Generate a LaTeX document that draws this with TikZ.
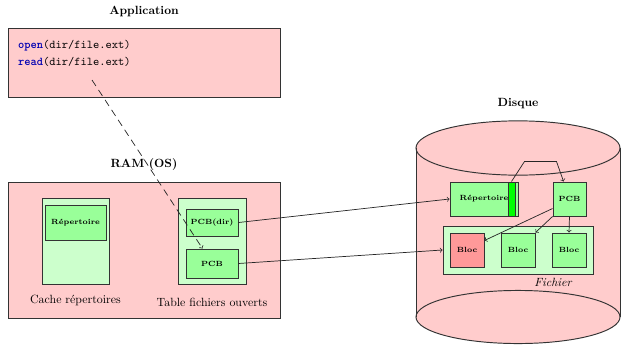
\documentclass[tikz,border=0pt]{standalone}
\usetikzlibrary{positioning}

\begin{document}
\begin{tikzpicture}[
            x=0.84pt, y=-0.84pt,
            >=to,
            zone/.style={draw=black!80, line width=0.8pt, fill=red!20},
            tablebox/.style={draw=black!80, line width=0.8pt, fill=green!20},
            entry/.style={draw=black!80, line width=0.8pt, fill=green!40,
                font=\fontsize{6.3pt}{7.5pt}\selectfont\bfseries},
            bloc/.style={entry, minimum size=28.6pt},
            title/.style={font=\bfseries},
            link/.style={->, line width=0.6pt, black!85}
        ]
        \useasboundingbox (0,0) rectangle (621,344);

        % application
        \node[zone, minimum width=228.5pt, minimum height=58pt] (app) at (144,62.5) {};
        \node[title] at (144,11) {Application};
        \node[anchor=west, font=\ttfamily] (opencall) at (14,46) {\textcolor{blue!70!black}{\bfseries open}(dir/file.ext)};
        \node[anchor=west, font=\ttfamily] (readcall) at (14,62) {\textcolor{blue!70!black}{\bfseries read}(dir/file.ext)};
        \coordinate (callstart) at (92,80);

        % RAM
        \node[zone, minimum width=228.5pt, minimum height=114.2pt] (ram) at (144,250) {};
        \node[title] at (144,165) {RAM (OS)};
        \node[tablebox, minimum width=56.3pt, minimum height=72.2pt] (cache) at (75.5,241) {};
        \node[entry, minimum width=51.2pt, minimum height=29.4pt] (cacherep) at (75.5,222.5) {Répertoire};
        \node at (75.5,300) {Cache répertoires};
        \node[tablebox, minimum width=57.1pt, minimum height=72.2pt] (table) at (212,241) {};
        \node[entry, minimum width=43.7pt, minimum height=22.7pt] (pcbdir) at (212,222.5) {PCB(dir)};
        \node[entry, minimum width=43.7pt, minimum height=24.4pt] (pcb) at (212,263.5) {PCB};
        \node at (212,302) {Table fichiers ouverts};

        % disque
        \fill[red!20] (416,148) rectangle (620,317);
        \draw[zone] (518,317) ellipse [x radius=85.7pt, y radius=22.3pt];
        \draw[zone] (518,148) ellipse [x radius=85.7pt, y radius=22.8pt];
        \draw[black!80, line width=0.8pt] (416,148) -- (416,317) (620,148) -- (620,317);
        \node[title] at (518,104) {Disque};

        \node[entry, minimum width=57.1pt, minimum height=28.6pt] (dirrep) at (484,199) {Répertoire\hspace{5pt}};
        \node[draw=black!80, line width=0.8pt, fill=green, inner sep=0pt,
            minimum width=5.9pt, minimum height=28.6pt] (dirmark) at (511.5,199) {};
        \node[entry, minimum width=27.7pt, minimum height=28.6pt] (dpcb) at (569.5,199) {PCB};
        \node[tablebox, minimum width=126pt, minimum height=40.3pt] (fichier) at (518,250) {};
        \node[font=\itshape] at (553,282) {Fichier};
        \node[bloc, fill=red!40] (bloc1) at (467,250) {Bloc};
        \node[bloc] (bloc2) at (518,250) {Bloc};
        \node[bloc] (bloc3) at (569,250) {Bloc};

        % liens
        \draw[link] (pcbdir.east) -- (dirrep.west);
        \draw[link] (pcb.east) -- (fichier.west);
        \draw[link] (dirmark.north) -- ++(13,-20) -- ++(32,0) -- ([xshift=-5pt]dpcb.north);
        \draw[link] ([yshift=-8pt]dpcb.west) -- ([yshift=8pt]bloc1.east);
        \draw[link] (dpcb.south west) -- (bloc2.north east);
        \draw[link] (dpcb.south) -- (bloc3.north);
        \draw[link, dash pattern=on 6pt off 4pt] (callstart) -- ([xshift=-8pt]pcb.north);

    \end{tikzpicture}
\end{document}
